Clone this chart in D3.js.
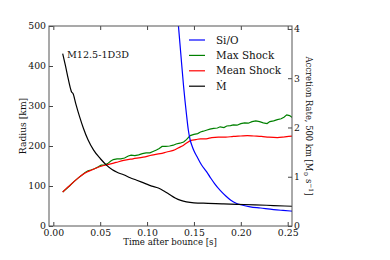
<!DOCTYPE html>
<html>
<head>
<meta charset="utf-8">
<script src="https://cdn.jsdelivr.net/npm/d3@7"></script>
<style>
  body { margin: 0; background: #fff; }
  text { font-family: "DejaVu Serif", serif; fill: #111; }
</style>
</head>
<body>
<div id="chart"></div>
<script>
// time after bounce [s] and values
var siO = [
  [0.1333, 505], [0.136, 430], [0.139, 348], [0.142, 280], [0.144, 240], [0.146, 215],
  [0.148, 200], [0.150, 188], [0.154, 170], [0.158, 153], [0.163, 137], [0.167, 123],
  [0.172, 106], [0.178, 89], [0.184, 75], [0.189, 65], [0.195, 57], [0.200, 53],
  [0.210, 48], [0.221, 45], [0.235, 41], [0.245, 39], [0.256, 37]
];
var maxShock = [
  [0.010, 85], [0.014, 93], [0.018, 102], [0.022, 111], [0.027, 121], [0.031, 128],
  [0.034, 134], [0.037, 138], [0.040, 140], [0.044, 143], [0.048, 148], [0.051, 152],
  [0.054, 152], [0.058, 156], [0.061, 162], [0.064, 166], [0.068, 168], [0.072, 168],
  [0.076, 170], [0.080, 175], [0.083, 177], [0.087, 176], [0.091, 178], [0.095, 181],
  [0.099, 183], [0.103, 183], [0.107, 187], [0.110, 190], [0.113, 194], [0.116, 199],
  [0.120, 199], [0.124, 200], [0.128, 202], [0.131, 205], [0.135, 207], [0.139, 210],
  [0.142, 216], [0.146, 226], [0.150, 229], [0.154, 231], [0.157, 235], [0.160, 237],
  [0.164, 240], [0.167, 242], [0.171, 244], [0.175, 245], [0.178, 248], [0.182, 246],
  [0.185, 250], [0.189, 251], [0.192, 253], [0.196, 252], [0.200, 256], [0.204, 258],
  [0.208, 257], [0.212, 261], [0.216, 263], [0.220, 261], [0.224, 258], [0.228, 256],
  [0.231, 261], [0.235, 263], [0.239, 266], [0.243, 268], [0.246, 272], [0.249, 278],
  [0.252, 276], [0.255, 271]
];
var meanShock = [
  [0.010, 85], [0.014, 94], [0.018, 102], [0.022, 111], [0.027, 121], [0.031, 128],
  [0.036, 135], [0.041, 140], [0.046, 145], [0.052, 150], [0.059, 154], [0.067, 159],
  [0.075, 164], [0.085, 168], [0.096, 172], [0.105, 177], [0.114, 181], [0.121, 185],
  [0.128, 189], [0.134, 196], [0.139, 202], [0.143, 209], [0.147, 214], [0.152, 216],
  [0.157, 218], [0.163, 218], [0.169, 221], [0.176, 222], [0.184, 222], [0.192, 224],
  [0.200, 225], [0.207, 226], [0.214, 225], [0.222, 224], [0.230, 222], [0.239, 221],
  [0.247, 223], [0.255, 225]
];
// accretion rate at 500 km [Msun/s], right axis
var mDot = [
  [0.010, 3.50], [0.013, 3.25], [0.016, 2.98], [0.0185, 2.78], [0.0195, 2.72], [0.021, 2.69],
  [0.024, 2.48], [0.028, 2.22], [0.032, 1.99], [0.037, 1.75], [0.043, 1.54], [0.050, 1.37],
  [0.057, 1.23], [0.063, 1.14], [0.068, 1.09], [0.075, 1.04], [0.082, 0.98], [0.089, 0.93],
  [0.097, 0.87], [0.105, 0.81], [0.112, 0.77], [0.118, 0.71], [0.124, 0.64], [0.130, 0.57],
  [0.136, 0.52], [0.142, 0.49], [0.150, 0.47], [0.165, 0.46], [0.180, 0.45], [0.196, 0.44],
  [0.215, 0.43], [0.235, 0.415], [0.256, 0.40]
];
var xTicks = [0, 0.05, 0.10, 0.15, 0.20, 0.25];
var yTicks = [0, 100, 200, 300, 400, 500];
var y2Ticks = [0, 1, 2, 3, 4];
var legendNames = ["Si/O", "Max Shock", "Mean Shock", "\u1E40"];
var legendColors = ["#0000ff", "#008000", "#ff0000", "#000000"];

function drawChart(){
  var w = 390, h = 260;
  var mLeft = 49, mRight = 292, mTop = 26, mBottom = 226;

  var svg = d3.select("#chart").append("svg")
      .attr("width", w)
      .attr("height", h);

  var x = d3.scaleLinear().domain([-0.0046, 0.2546]).range([mLeft, mRight]);
  var y = d3.scaleLinear().domain([0, 500]).range([mBottom, mTop]);
  var y2 = d3.scaleLinear().domain([0, 4.06]).range([mBottom, mTop]);

  svg.append("clipPath").attr("id", "plot")
    .append("rect")
      .attr("x", mLeft).attr("y", mTop)
      .attr("width", mRight - mLeft).attr("height", mBottom - mTop);

  var g = svg.append("g").attr("clip-path", "url(#plot)");

  var line = d3.line().x(function(d){ return x(d[0]); }).y(function(d){ return y(d[1]); });
  var line2 = d3.line().curve(d3.curveMonotoneX)
      .x(function(d){ return x(d[0]); }).y(function(d){ return y2(d[1]); });
  var smooth = d3.line().curve(d3.curveMonotoneX)
      .x(function(d){ return x(d[0]); }).y(function(d){ return y(d[1]); });

  g.append("path").attr("d", line(maxShock)).attr("fill", "none").attr("stroke", "#008000").attr("stroke-width", 1.2);
  g.append("path").attr("d", smooth(meanShock)).attr("fill", "none").attr("stroke", "#ff0000").attr("stroke-width", 1.2);
  g.append("path").attr("d", smooth(siO)).attr("fill", "none").attr("stroke", "#0000ff").attr("stroke-width", 1.2);
  g.append("path").attr("d", line2(mDot)).attr("fill", "none").attr("stroke", "#000000").attr("stroke-width", 1.2);

  // axes, ticks pointing inward
  function styleAxis(sel) {
    sel.select(".domain").remove();
    sel.selectAll(".tick line").attr("stroke", "#444");
    sel.selectAll(".tick text").style("font-size", "9.3px").attr("fill", "#111");
  }
  svg.append("g").attr("transform", "translate(0," + mBottom + ")")
    .call(d3.axisBottom(x).tickValues(xTicks).tickFormat(d3.format(".2f")).tickSizeInner(-4).tickSizeOuter(0).tickPadding(3))
    .call(styleAxis);
  svg.append("g").attr("transform", "translate(0," + mTop + ")")
    .call(d3.axisTop(x).tickValues(xTicks).tickFormat("").tickSizeInner(-4).tickSizeOuter(0))
    .call(styleAxis);
  svg.append("g").attr("transform", "translate(" + mLeft + ",0)")
    .call(d3.axisLeft(y).tickValues(yTicks).tickSizeInner(-4).tickSizeOuter(0).tickPadding(3))
    .call(styleAxis);
  svg.append("g").attr("transform", "translate(" + mRight + ",0)")
    .call(d3.axisRight(y2).tickValues(y2Ticks).tickFormat(d3.format("d")).tickSizeInner(-4).tickSizeOuter(0).tickPadding(2))
    .call(styleAxis);

  svg.append("rect")
      .attr("x", mLeft).attr("y", mTop)
      .attr("width", mRight - mLeft).attr("height", mBottom - mTop)
      .attr("fill", "none").attr("stroke", "#555").attr("stroke-width", 1);

  // legend
  var leg = svg.append("g");
  legendNames.forEach(function(name, i){
    var ly = 40 + i * 15.4;
    leg.append("line").attr("x1", 189).attr("x2", 205).attr("y1", ly).attr("y2", ly)
      .attr("stroke", legendColors[i]).attr("stroke-width", 1.2);
    leg.append("text").attr("x", 216).attr("y", ly + 3.5).style("font-size", "10.4px").text(name);
  });

  svg.append("text").attr("x", 67).attr("y", 58).style("font-size", "9.6px").text("M12.5-1D3D");

  svg.append("text")
      .attr("x", 170).attr("y", 245)
      .attr("text-anchor", "middle")
      .style("font-size", "8.6px")
      .text("Time after bounce [s]");

  svg.append("text")
      .attr("transform", "translate(26,126) rotate(-90)")
      .attr("text-anchor", "middle")
      .style("font-size", "9.2px")
      .text("Radius [km]");

  var rl = svg.append("text")
      .attr("transform", "translate(305.5,126) rotate(90)")
      .attr("text-anchor", "middle")
      .style("font-size", "8.4px");
  rl.append("tspan").text("Accretion Rate, 500 km [M");
  rl.append("tspan").attr("dy", 2).style("font-size", "6px").text("\u2299");
  rl.append("tspan").attr("dy", -2).text(" s");
  rl.append("tspan").attr("dy", -3).style("font-size", "6px").text("\u22121");
  rl.append("tspan").attr("dy", 3).text("]");
}

window.onload = function(){
  drawChart();
};
</script>
</body>
</html>
